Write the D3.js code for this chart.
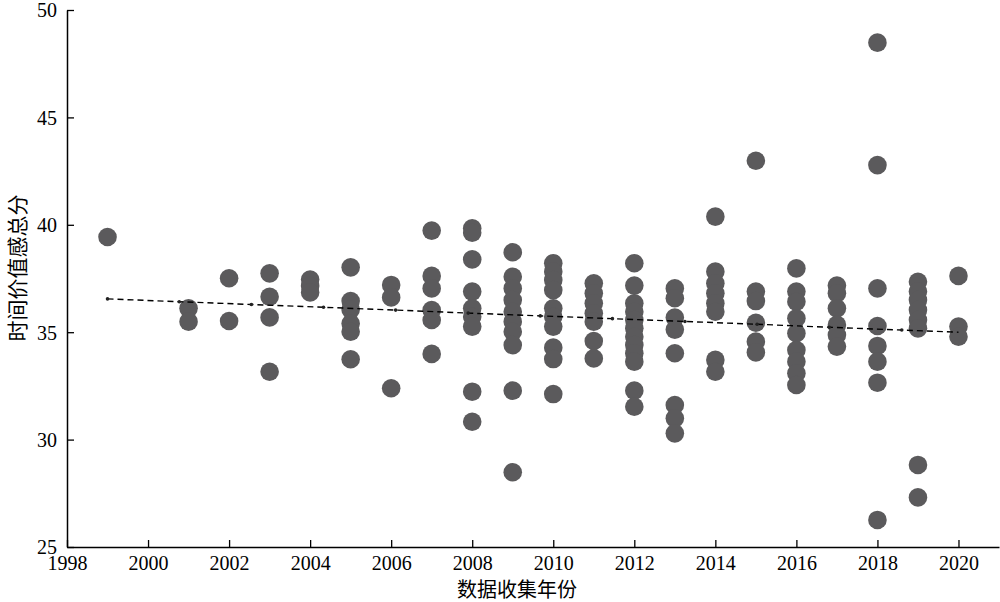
<!DOCTYPE html>
<html>
<head>
<meta charset="utf-8">
<script src="https://cdn.jsdelivr.net/npm/d3@7"></script>
<style>
  html, body { margin: 0; padding: 0; background: #fff; }
  svg { display: block; }
</style>
</head>
<body>
<div id="chart"></div>
<script>
// ---- Data ----
const years = [1999, 2001, 2002, 2003, 2004, 2005, 2006, 2007, 2008, 2009, 2010,
               2011, 2012, 2013, 2014, 2015, 2016, 2017, 2018, 2019, 2020];
const scores = [
  [39.43],
  [36.11, 35.49],
  [37.51, 35.52],
  [37.74, 36.65, 35.69, 33.16],
  [37.45, 37.15, 36.85],
  [38.02, 36.45, 36.05, 35.40, 35.02, 33.74],
  [37.20, 36.62, 32.39],
  [39.73, 37.62, 37.04, 36.03, 35.57, 33.99],
  [39.84, 39.63, 38.39, 36.89, 36.11, 35.72, 35.26, 32.23, 30.83],
  [38.72, 37.58, 37.04, 36.50, 35.95, 35.49, 35.02, 34.40, 32.28, 28.48],
  [38.21, 37.82, 37.43, 36.96, 36.11, 35.72, 35.26, 34.28, 33.75, 32.12],
  [37.28, 36.81, 36.35, 35.88, 35.49, 34.59, 33.78],
  [38.21, 37.17, 36.35, 35.95, 35.57, 35.18, 34.79, 34.40, 34.02, 33.63, 32.28, 31.53],
  [37.04, 36.58, 35.68, 35.12, 34.02, 31.61, 30.99, 30.29],
  [40.38, 37.82, 37.28, 36.81, 36.35, 35.95, 33.71, 33.16],
  [42.98, 36.89, 36.45, 35.44, 34.56, 34.06],
  [37.97, 36.89, 36.42, 35.65, 34.95, 34.17, 33.63, 33.09, 32.54],
  [37.17, 36.81, 36.11, 35.34, 34.87, 34.33],
  [48.48, 42.78, 37.04, 35.29, 34.36, 33.63, 32.65, 26.26],
  [37.35, 36.89, 36.50, 36.03, 35.57, 35.18, 28.82, 27.31],
  [37.62, 35.26, 34.79]
];
// fitted trend line (dashed), with small markers
const trendYears  = [1999, 2000.77, 2002.55, 2004.33, 2006.11, 2007.90, 2009.68,
                     2011.46, 2013.25, 2015.03, 2016.81, 2018.60, 2020];
const trendValues = [36.55, 36.42, 36.29, 36.16, 36.03, 35.89, 35.76,
                     35.63, 35.50, 35.37, 35.23, 35.10, 35.00];
const xTicks = [1998, 2000, 2002, 2004, 2006, 2008, 2010, 2012, 2014, 2016, 2018, 2020];
const yTicks = [25, 30, 35, 40, 45, 50];
const xTitle = "数据收集年份";
const yTitle = "时间价值感总分";

// ---- Layout ----
const W = 1000, H = 602;
const mLeft = 67, mRight = 999, mTop = 10, mBottom = 547;

const svg = d3.select("#chart").append("svg")
  .attr("width", W).attr("height", H);

const x = d3.scaleLinear().domain([1998, 2021]).range([mLeft, mRight]);
const y = d3.scaleLinear().domain([25, 50]).range([mBottom, mTop]);

const points = [];
years.forEach((yr, i) => scores[i].forEach(v => points.push({ yr, v })));

// points
svg.append("g").selectAll("circle")
  .data(points).enter().append("circle")
  .attr("cx", d => x(d.yr))
  .attr("cy", d => y(d.v))
  .attr("r", 9.3)
  .attr("fill", "#5b5a5c");

// trend line
const trend = trendYears.map((t, i) => ({ t, v: trendValues[i] }));
svg.append("path")
  .datum(trend)
  .attr("fill", "none")
  .attr("stroke", "#000")
  .attr("stroke-width", 1.4)
  .attr("stroke-dasharray", "6,4")
  .attr("d", d3.line().x(d => x(d.t)).y(d => y(d.v)));
svg.append("g").selectAll("circle")
  .data(trend.slice(0, -1)).enter().append("circle")
  .attr("cx", d => x(d.t))
  .attr("cy", d => y(d.v))
  .attr("r", 1.8)
  .attr("fill", "#222");

// axes
const fontSerif = "'Liberation Serif', 'Times New Roman', serif";
const xAxis = d3.axisBottom(x).tickValues(xTicks).tickFormat(d3.format("d"))
  .tickSizeInner(-7).tickSizeOuter(0).tickPadding(12);
const yAxis = d3.axisLeft(y).tickValues(yTicks).tickFormat(d3.format("d"))
  .tickSizeInner(-7).tickSizeOuter(0).tickPadding(10);

const gx = svg.append("g").attr("transform", `translate(0,${mBottom})`).call(xAxis);
const gy = svg.append("g").attr("transform", `translate(${mLeft},0)`).call(yAxis);

[gx, gy].forEach(g => {
  g.select(".domain").attr("stroke", "#000").attr("stroke-width", 1.5);
  g.selectAll(".tick line").attr("stroke", "#000").attr("stroke-width", 1.3);
  g.selectAll(".tick text")
    .attr("fill", "#000")
    .style("font-family", fontSerif)
    .style("font-size", "20px");
});
gx.selectAll(".tick text").attr("dy", "0.55em");
gy.selectAll(".tick text").attr("dy", "0.34em");

// titles
svg.append("text")
  .attr("x", 517).attr("y", 597)
  .attr("text-anchor", "middle")
  .style("font-family", "'Noto Sans CJK SC', sans-serif")
  .style("font-size", "20px")
  .attr("fill", "#000")
  .text(xTitle);

svg.append("text")
  .attr("transform", "translate(25,268) rotate(-90)")
  .attr("text-anchor", "middle")
  .style("font-family", "'Noto Sans CJK SC', sans-serif")
  .style("font-size", "21px")
  .attr("fill", "#000")
  .text(yTitle);
</script>
</body>
</html>
